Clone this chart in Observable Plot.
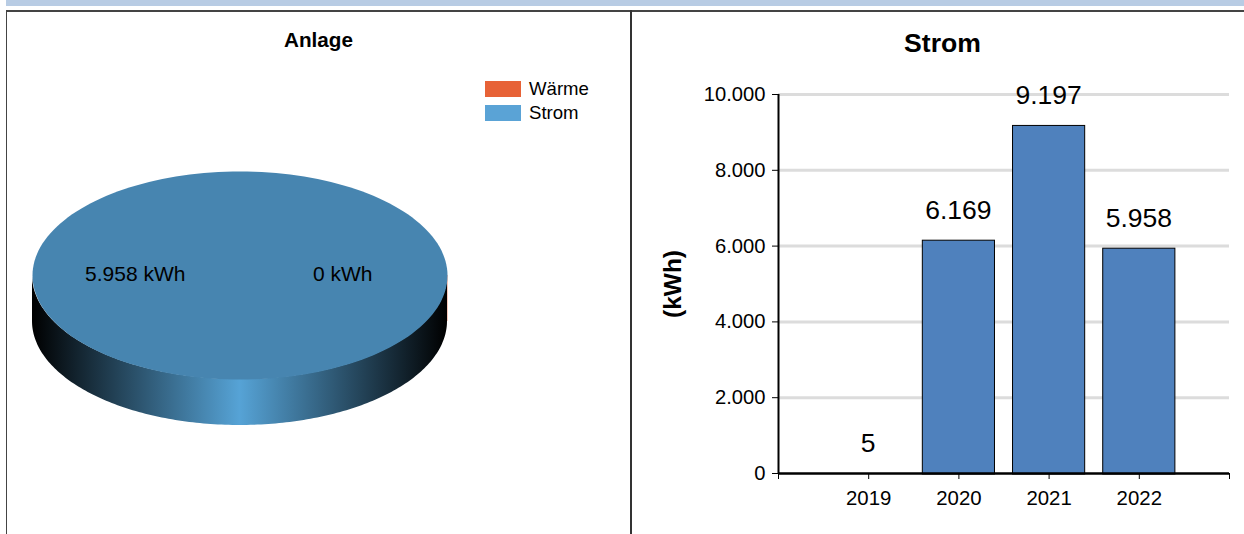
<!DOCTYPE html>
<html><head><meta charset="utf-8">
<script src="https://cdn.jsdelivr.net/npm/d3@7"></script>
<script src="https://cdn.jsdelivr.net/npm/@observablehq/plot@0.6"></script>
<style>
html,body{margin:0;padding:0;background:#fff;width:1244px;height:534px;overflow:hidden;font-family:"Liberation Sans",Arial,sans-serif;color:#000}
#band{position:absolute;left:6px;top:0;width:1238px;height:6px;background:#b8cce4}
#frame{position:absolute;left:6px;top:10px;width:1238px;height:524px;border-top:2px solid #444;border-left:1px solid #444;box-sizing:border-box}
#sep{position:absolute;left:630px;top:10px;width:1.5px;height:524px;background:#333}
.title{position:absolute;font-weight:bold;transform:translateX(-50%);white-space:nowrap;line-height:1}
.sw{position:absolute;left:484.5px;width:36px;height:16px}
.lg{position:absolute;left:529px;font-size:18.6px;line-height:1;white-space:nowrap}
#pie,#bar{position:absolute;top:0}
#pie{left:0}#bar{left:632px}
svg{display:block;background:transparent!important}
</style></head><body>
<div id="band"></div><div id="frame"></div><div id="sep"></div>
<div class="title" style="left:318.5px;top:30px;font-size:20.7px">Anlage</div>
<div class="title" style="left:942.5px;top:30px;font-size:26.6px">Strom</div>
<div id="legend"></div>
<div id="pie"></div><div id="bar"></div>
<script>
const pieNames = ["Strom", "Wärme"];
const pieValues = [5958, 0];
const legendNames = ["Wärme", "Strom"];
const legendColors = ["#e76237", "#5aa3d6"];
const years = [2019, 2020, 2021, 2022];
const yearValues = [5, 6169, 9197, 5958];
const yTicks = [0, 2000, 4000, 6000, 8000, 10000];
const deLocale = d3.formatLocale({decimal: ",", thousands: ".", grouping: [3], currency: ["", " €"]});
const fmt = deLocale.format(",d");
const font = '"Liberation Sans", Arial, sans-serif';

// Legend
legendNames.forEach((n, i) => {
  const top = 81 + i * 24;
  d3.select("#legend").append("div").attr("class", "sw").style("top", top + "px").style("background", legendColors[i]);
  d3.select("#legend").append("div").attr("class", "lg").style("top", (top - 1) + "px").text(n);
});

// Pie (flat ellipse + rim), slices derived from the values
const slices = d3.pie().sort(null)(pieValues).map((s, i) => ({...s, name: pieNames[i]}));
const arcPts = (a0, a1) => d3.range(0, 181).map(k => a0 + (a1 - a0) * k / 180);
const rim = arcPts(0, Math.PI).map(a => ({x: Math.cos(a), y: Math.sin(a)}));
const depth = 46 / 104;
const topSlice = slices.filter(s => s.value > 0).map(s => {
  const pts = arcPts(s.startAngle, s.endAngle).map(a => ({x: Math.cos(a), y: Math.sin(a), name: s.name}));
  return pts;
}).flat();
const pieLabels = slices.map(s => {
  const mid = (s.startAngle + s.endAngle) / 2;
  return {x: 0.5 * Math.cos(mid), y: 0.5 * Math.sin(mid), text: fmt(s.value) + " kWh"};
});
const defsMark = () => {
  const g = d3.create("svg:defs");
  const lg = g.append("linearGradient").attr("id", "rimGrad").attr("x1", 0).attr("x2", 1).attr("y1", 0).attr("y2", 0);
  [[0, "#000"], [0.5, "#56a3d6"], [1, "#000"]].forEach(([o, c]) => lg.append("stop").attr("offset", o).attr("stop-color", c));
  return g.node();
};
const piePlot = Plot.plot({
  width: 630, height: 534,
  margin: 0,
  style: {fontFamily: font, background: "transparent"},
  x: {domain: [-1, 1], range: [32, 447], axis: null},
  y: {domain: [-1, 1], range: [171, 379], axis: null},
  marks: [
    defsMark,
    Plot.ruleX([1], {y1: 0, y2: depth, stroke: legendColors[0], strokeOpacity: 0.35, strokeWidth: 1}),
    Plot.areaY(rim, {x: "x", y1: "y", y2: d => d.y + depth, fill: "url(#rimGrad)"}),
    Plot.line(topSlice, {x: "x", y: "y", fill: "#4785b0", stroke: "none"}),
    Plot.text(pieLabels, {x: "x", y: "y", text: "text", fontSize: 21, dx: -1, dy: -1, fill: "#000"})
  ]
});
document.getElementById("pie").append(piePlot);

// Bars
const rows = years.map((y, i) => ({year: y, value: yearValues[i]}));
const barPlot = Plot.plot({
  width: 612, height: 534,
  marginLeft: 146, marginRight: 15, marginTop: 94, marginBottom: 61,
  style: {fontFamily: font, background: "transparent"},
  x: {domain: [2018, 2023], axis: null},
  y: {domain: [0, 10000], axis: null},
  marks: [
    Plot.ruleY(yTicks.filter(d => d > 0), {stroke: "#dcdcdc", strokeWidth: 3}),
    Plot.rectY(rows.filter(d => d.value > 100), {x1: d => d.year - 0.4, x2: d => d.year + 0.4, y1: 0, y2: "value", dy: 1, fill: "#4f81bd", stroke: "#000", strokeWidth: 1}),
    Plot.axisY({ticks: yTicks, tickFormat: fmt, tickSize: 6, tickPadding: 7, fontSize: 20.2, stroke: "#000", label: null}),
    Plot.axisX({ticks: d3.range(2018, 2024), tickFormat: d => (years.includes(d) ? String(d) : ""), tickSize: 6, tickPadding: 11, fontSize: 20.4, label: null}),
    Plot.ruleX([2018], {stroke: "#000", strokeWidth: 2}),
    Plot.ruleY([0], {stroke: "#000", strokeWidth: 2.5}),
    Plot.text(rows, {x: "year", y: "value", text: d => fmt(d.value), dy: -29.5, dx: -0.5, fontSize: 26.5, fill: "#000"}),
    Plot.text(["(kWh)"], {frameAnchor: "left", textAnchor: "middle", dx: -105, rotate: -90, fontWeight: "bold", fontSize: 24.5, fill: "#000"})
  ]
});
document.getElementById("bar").append(barPlot);
</script>
</body></html>
